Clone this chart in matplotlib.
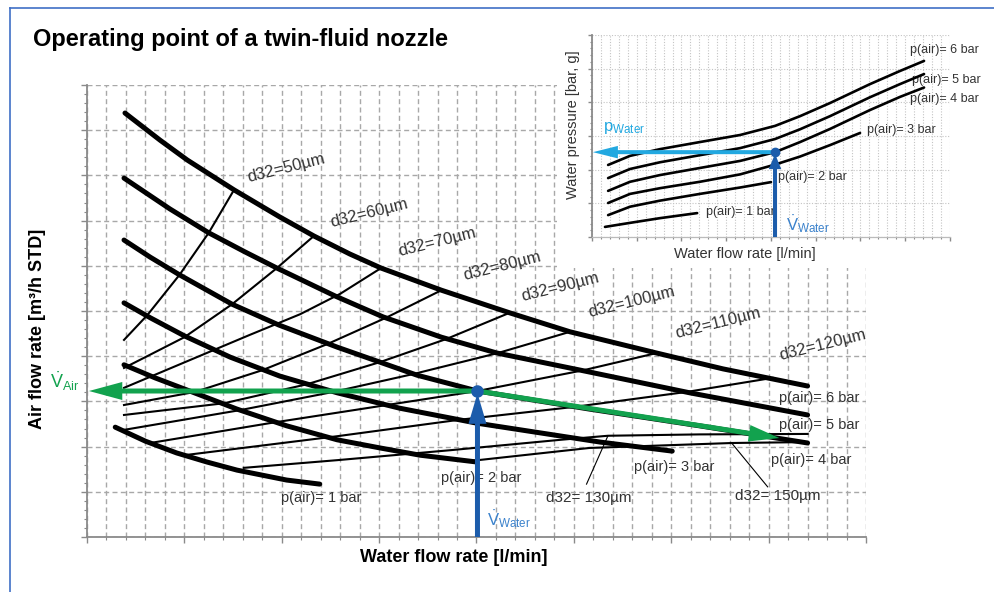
import matplotlib.pyplot as plt
from matplotlib.lines import Line2D
from matplotlib.patches import FancyArrowPatch, Rectangle, ArrowStyle
from matplotlib.ticker import MultipleLocator

plt.rcParams["font.family"] = ["Liberation Sans", "DejaVu Sans"]
plt.rcParams["mathtext.fontset"] = "custom"
plt.rcParams["mathtext.rm"] = "Liberation Sans"
plt.rcParams["mathtext.it"] = "Liberation Sans:italic"

W, H = 995, 592
TEXT_GRAY = "#333333"
GRID_GRAY = "#a8a8a8"
AXIS_GRAY = "#8a8a8a"
GREEN = "#12a24e"
BLUE = "#1c5cab"
LIGHT_BLUE = "#3b82cc"
CYAN = "#22a8e0"
FRAME_BLUE = "#3f6fc6"

# ---- main chart: air flow rate vs water flow rate (grid units, no tick labels)
# lines of constant air pressure p(air) [bar]
P1_X = [0.29, 0.60, 0.92, 1.23, 1.54, 2.05, 2.39]
P1_Y = [2.43, 2.12, 1.86, 1.66, 1.48, 1.26, 1.17]
P2_X = [0.38, 0.70, 1.03, 1.54, 2.05, 2.57, 3.01, 3.42, 4.00]
P2_Y = [3.81, 3.52, 3.25, 2.83, 2.46, 2.15, 1.97, 1.81, 1.66]
P3_X = [0.38, 0.65, 1.00, 1.47, 1.98, 2.57, 3.21, 4.00, 5.27, 6.01]
P3_Y = [5.18, 4.85, 4.45, 3.98, 3.56, 3.19, 2.85, 2.52, 2.10, 1.90]
P4_X = [0.38, 0.65, 0.95, 1.49, 1.97, 2.57, 3.39, 4.01, 5.16, 6.29, 7.40]
P4_Y = [6.57, 6.19, 5.80, 5.15, 4.69, 4.20, 3.58, 3.23, 2.83, 2.46, 2.08]
P5_X = [0.38, 0.85, 1.25, 1.62, 1.95, 2.55, 3.04, 3.64, 4.21, 5.16, 6.19, 7.40]
P5_Y = [7.94, 7.26, 6.73, 6.31, 5.95, 5.33, 4.87, 4.42, 4.07, 3.65, 3.19, 2.70]
P6_X = [0.39, 0.75, 1.03, 1.51, 1.98, 2.33, 2.70, 3.02, 3.64, 4.34, 4.96, 5.85,
        6.53, 7.40]
P6_Y = [9.38, 8.78, 8.34, 7.68, 7.08, 6.66, 6.26, 5.95, 5.46, 4.96, 4.54, 4.07,
        3.72, 3.34]

# lines of constant Sauter diameter d32 [um]
D50_X = [0.38, 0.62, 0.95, 1.25, 1.51]
D50_Y = [4.36, 4.91, 5.80, 6.73, 7.68]
D60_X = [0.38, 0.60, 1.00, 1.49, 1.95, 2.33]
D60_Y = [3.74, 3.98, 4.42, 5.15, 5.95, 6.66]
D70_X = [0.38, 1.03, 1.67, 2.19, 2.60, 3.02]
D70_Y = [3.30, 3.89, 4.47, 4.93, 5.38, 5.95]
D80_X = [0.38, 1.11, 1.80, 2.47, 3.07, 3.64]
D80_Y = [2.92, 3.21, 3.69, 4.27, 4.85, 5.46]
D90_X = [0.38, 1.41, 2.26, 3.01, 3.69, 4.34]
D90_Y = [2.70, 2.96, 3.38, 3.87, 4.38, 4.96]
D100_X = [0.38, 1.58, 2.53, 3.36, 4.22, 4.96]
D100_Y = [2.37, 2.81, 3.21, 3.61, 4.07, 4.54]
D110_X = [0.65, 1.88, 3.08, 4.01, 5.10, 5.85]
D110_Y = [2.08, 2.52, 2.92, 3.23, 3.69, 4.07]
D120_X = [1.00, 2.57, 3.81, 5.01, 6.16, 7.04]
D120_Y = [1.81, 2.23, 2.59, 2.88, 3.21, 3.52]
D130_X = [1.61, 2.57, 3.73, 4.86, 5.35, 6.29, 7.40]
D130_Y = [1.53, 1.70, 1.92, 2.15, 2.24, 2.27, 2.28]
D150_X = [3.93, 5.16, 6.63, 7.40]
D150_Y = [1.68, 1.97, 2.08, 2.10]

LEADER130_X = [5.13, 5.35]
LEADER130_Y = [1.17, 2.24]
LEADER150_X = [6.62, 6.99]
LEADER150_Y = [2.08, 1.11]

OP_WATER = 4.01
OP_AIR = 3.23
OP_AIR_END = (7.11, 2.19)

D32_LABELS = ["d32=50µm", "d32=60µm", "d32=70µm", "d32=80µm", "d32=90µm",
              "d32=100µm", "d32=110µm", "d32=120µm"]
D32_LABEL_X = [2.05, 2.90, 3.60, 4.26, 4.86, 5.59, 6.48, 7.55]
D32_LABEL_Y = [8.16, 7.17, 6.53, 6.00, 5.53, 5.20, 4.73, 4.25]

P_LABELS = ["p(air)= 1 bar", "p(air)= 2 bar", "p(air)= 3 bar",
            "p(air)= 4 bar", "p(air)= 5 bar", "p(air)= 6 bar"]
P_LABEL_X = [1.99, 3.64, 5.62, 7.02, 7.11, 7.11]
P_LABEL_Y = [0.86, 1.31, 1.55, 1.70, 2.48, 3.08]

# ---- inset: water pressure vs water flow rate
IN_X = [0.36, 0.85, 1.52, 2.41, 3.31, 4.09, 4.65, 5.32, 6.21, 6.88, 7.42]
I6_Y = [2.14, 2.41, 2.61, 2.82, 3.03, 3.30, 3.59, 3.98, 4.54, 4.93, 5.23]
I5_Y = [1.75, 2.02, 2.22, 2.43, 2.64, 2.91, 3.20, 3.59, 4.15, 4.54, 4.84]
I4_Y = [1.37, 1.64, 1.84, 2.05, 2.26, 2.52, 2.82, 3.21, 3.77, 4.16, 4.44]
I3_X = [0.36, 0.85, 1.52, 2.41, 3.31, 4.09, 4.65, 5.32, 5.99]
I3_Y = [1.01, 1.28, 1.45, 1.64, 1.86, 2.15, 2.39, 2.73, 3.09]
I2_X = [0.36, 0.85, 1.52, 2.41, 3.31, 4.00]
I2_Y = [0.65, 0.90, 1.08, 1.28, 1.47, 1.63]
I1_X = [0.29, 0.85, 1.52, 2.35]
I1_Y = [0.30, 0.42, 0.56, 0.71]

IN_OP_WATER = 4.09
IN_OP_PRESSURE = 2.52

IN_LABEL_X = [2.55, 4.16, 6.15, 7.11, 7.15, 7.11]
IN_LABEL_Y = [0.74, 1.78, 3.18, 4.10, 4.66, 5.55]


def px_box(left, top, right, bottom):
    return [left / W, 1 - bottom / H, (right - left) / W, (bottom - top) / H]


def arrow(axis, start, end, color, tail, head_w, head_l, z=6):
    style = ArrowStyle("simple", head_length=head_l, head_width=head_w, tail_width=tail)
    patch = FancyArrowPatch(start, end, arrowstyle=style, mutation_scale=1,
                            color=color, lw=0, shrinkA=0, shrinkB=0, zorder=z)
    axis.add_patch(patch)


def style_grid_axes(axis, x_max, y_max, line_style, lw, color, spine_color, tick_len):
    axis.set_xlim(0, x_max)
    axis.set_ylim(0, y_max)
    axis.xaxis.set_major_locator(MultipleLocator(1))
    axis.xaxis.set_minor_locator(MultipleLocator(0.2))
    axis.yaxis.set_major_locator(MultipleLocator(1))
    axis.yaxis.set_minor_locator(MultipleLocator(0.2))
    axis.set_xticklabels([])
    axis.set_yticklabels([])
    axis.tick_params(which="major", length=tick_len, width=1, color=spine_color)
    axis.tick_params(which="minor", length=tick_len * 0.55, width=0.8, color=spine_color)
    axis.grid(which="both", axis="x", ls=line_style, lw=lw, color=color)
    axis.grid(which="major", axis="y", ls=line_style, lw=lw, color=color)
    axis.set_axisbelow(True)
    for side in ("top", "right"):
        axis.spines[side].set_visible(False)
    for side in ("left", "bottom"):
        axis.spines[side].set_color(spine_color)
        axis.spines[side].set_linewidth(1.3)


fig = plt.figure(figsize=(W / 100, H / 100), dpi=100)

# frame
fig.add_artist(Line2D([10 / W, 1], [1 - 8 / H, 1 - 8 / H], color=FRAME_BLUE, lw=1.2))
fig.add_artist(Line2D([10 / W, 10 / W], [0, 1 - 8 / H], color=FRAME_BLUE, lw=1.2))

fig.text(33 / W, 1 - 46 / H, "Operating point of a twin-fluid nozzle",
         fontsize=17, fontweight="bold", color="black", va="baseline")

ax = fig.add_axes(px_box(87, 85, 866, 537))
style_grid_axes(ax, 8, 10, (0, (3.6, 2.4)), 1.0, GRID_GRAY, AXIS_GRAY, 4)

for xs, ys in [(P1_X, P1_Y), (P2_X, P2_Y), (P3_X, P3_Y),
               (P4_X, P4_Y), (P5_X, P5_Y), (P6_X, P6_Y)]:
    ax.plot(xs, ys, color="black", lw=3.6, solid_capstyle="round",
            solid_joinstyle="round", zorder=4)

for xs, ys in [(D50_X, D50_Y), (D60_X, D60_Y), (D70_X, D70_Y), (D80_X, D80_Y),
               (D90_X, D90_Y), (D100_X, D100_Y), (D110_X, D110_Y),
               (D120_X, D120_Y), (D130_X, D130_Y), (D150_X, D150_Y)]:
    ax.plot(xs, ys, color="black", lw=1.5, solid_joinstyle="round", zorder=3)

ax.plot(LEADER130_X, LEADER130_Y, color="black", lw=0.8, zorder=3)
ax.plot(LEADER150_X, LEADER150_Y, color="black", lw=0.8, zorder=3)

for label, x, y in zip(D32_LABELS, D32_LABEL_X, D32_LABEL_Y):
    ax.text(x, y, label, rotation=14, ha="center", va="center", fontsize=12,
            color=TEXT_GRAY, rotation_mode="anchor")
ax.text(5.15, 0.86, "d32= 130µm", ha="center", va="center", fontsize=11, color=TEXT_GRAY)
ax.text(7.09, 0.91, "d32= 150µm", ha="center", va="center", fontsize=11, color=TEXT_GRAY)

for label, x, y in zip(P_LABELS, P_LABEL_X, P_LABEL_Y):
    ax.text(x, y, label, ha="left", va="center", fontsize=10.5, color=TEXT_GRAY)

# operating point and arrows
arrow(ax, (OP_WATER, 0), (OP_WATER, OP_AIR - 0.05), BLUE, 3.6, 13, 22)
arrow(ax, (OP_WATER, OP_AIR), (0.02, OP_AIR), GREEN, 3.6, 13, 24)
arrow(ax, (OP_WATER, OP_AIR), OP_AIR_END, GREEN, 3.6, 12, 22)
ax.plot([OP_WATER], [OP_AIR], "o", ms=8, color=BLUE, zorder=7)

ax.text(-0.38, 3.45, r"$\dot{\mathrm{V}}_{\mathrm{Air}}$", color=GREEN, fontsize=13,
        ha="left", va="center")
ax.text(4.11, 0.40, r"$\dot{\mathrm{V}}_{\mathrm{Water}}$", color=LIGHT_BLUE, fontsize=12,
        ha="left", va="center")

fig.text(454 / W, 1 - 557 / H, "Water flow rate [l/min]", fontsize=13,
         fontweight="bold", ha="center", va="center")
fig.text(38 / W, 1 - 329 / H, "Air flow rate [m³/h STD]", fontsize=13,
         fontweight="bold", ha="center", va="center", rotation=90)

# white patch behind the inset
fig.add_artist(Rectangle((557 / W, 1 - 268 / H), (W - 557) / W, 268 / H,
                         transform=fig.transFigure, facecolor="white",
                         edgecolor="none", zorder=1))

inax = fig.add_axes(px_box(592, 35, 950, 237), zorder=2)
style_grid_axes(inax, 8, 6, (0, (1, 1.5)), 0.8, "#c4c4c4", AXIS_GRAY, 3)
inax.spines["bottom"].set_color("#bbbbbb")
inax.spines["bottom"].set_linewidth(0.9)

for xs, ys in [(I1_X, I1_Y), (I2_X, I2_Y), (I3_X, I3_Y),
               (IN_X, I4_Y), (IN_X, I5_Y), (IN_X, I6_Y)]:
    inax.plot(xs, ys, color="black", lw=1.9, solid_capstyle="round",
              solid_joinstyle="round", zorder=4)

for label, x, y in zip(P_LABELS, IN_LABEL_X, IN_LABEL_Y):
    inax.text(x, y, label, ha="left", va="center", fontsize=9, color=TEXT_GRAY)

arrow(inax, (IN_OP_WATER, 0), (IN_OP_WATER, IN_OP_PRESSURE - 0.05), BLUE, 2.9, 9, 11)
arrow(inax, (IN_OP_WATER, IN_OP_PRESSURE), (0.02, IN_OP_PRESSURE), CYAN, 2.9, 9, 18)
inax.plot([IN_OP_WATER], [IN_OP_PRESSURE], "o", ms=6, color=BLUE, zorder=7)

inax.text(0.25, 3.24, r"$\mathrm{p}_{\mathrm{Water}}$", color=CYAN, fontsize=12,
          ha="left", va="center")
inax.text(4.34, 0.38, r"$\dot{\mathrm{V}}_{\mathrm{Water}}$", color=LIGHT_BLUE, fontsize=12,
          ha="left", va="center")

fig.text(745 / W, 1 - 254 / H, "Water flow rate [l/min]", fontsize=10.5,
         color=TEXT_GRAY, ha="center", va="center")
fig.text(573 / W, 1 - 125 / H, "Water pressure [bar, g]", fontsize=10.5,
         color=TEXT_GRAY, ha="center", va="center", rotation=90)

fig.savefig("out.png", dpi=100)
